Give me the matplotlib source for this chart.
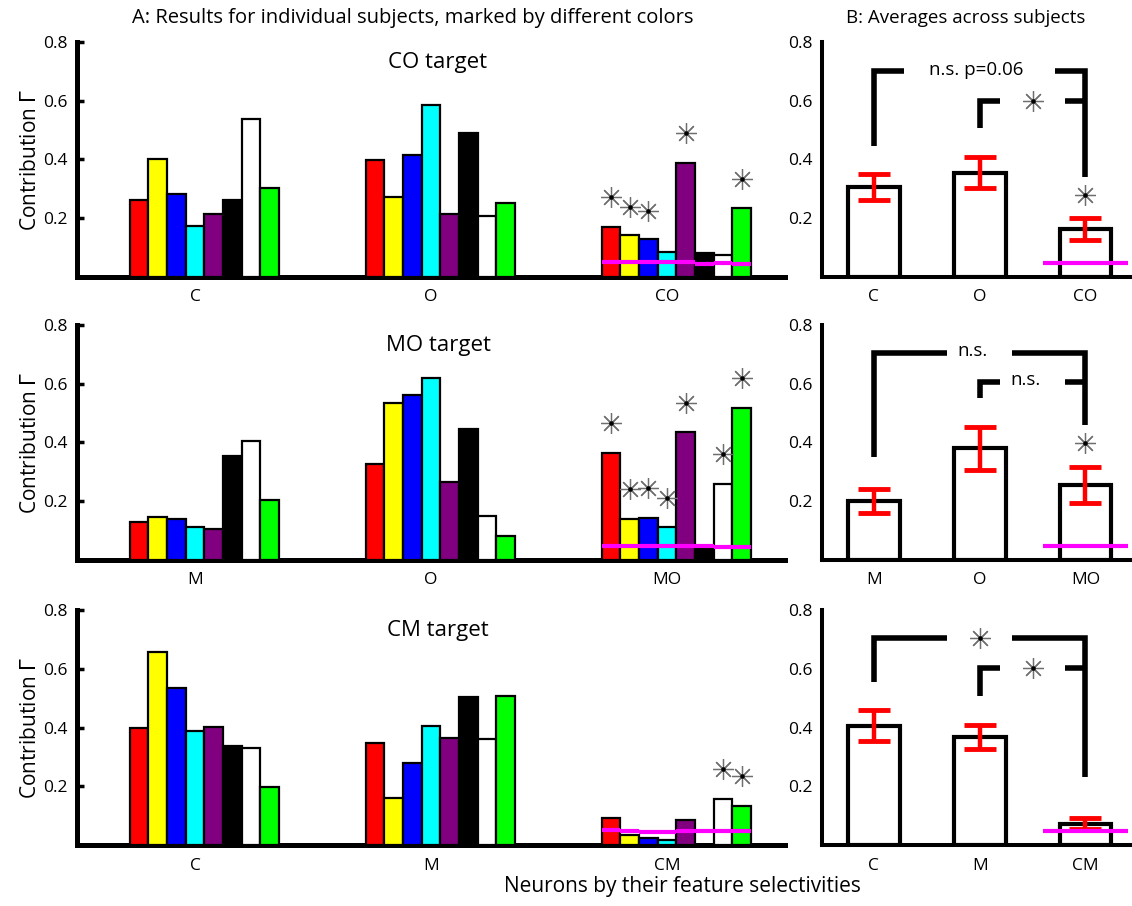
import matplotlib
matplotlib.use('Agg')
import matplotlib.pyplot as plt
import numpy as np

plt.rcParams['font.family'] = ['Open Sans', 'DejaVu Sans']

# subjects, one colour each
subject_colors = ['#ff0000', '#ffff00', '#0000ff', '#00ffff',
                  '#800080', '#000000', '#ffffff', '#00ff00']

# --- CO target ---
co_groups = ['C', 'O', 'CO']
co_vals = [[0.262, 0.402, 0.281, 0.175, 0.213, 0.262, 0.537, 0.302],
           [0.398, 0.271, 0.415, 0.586, 0.214, 0.489, 0.208, 0.253],
           [0.169, 0.143, 0.128, 0.084, 0.387, 0.081, 0.075, 0.234]]
co_chance = [0.052, 0.052, 0.050, 0.051, 0.050, 0.045, 0.048, 0.045]
co_stars = [0.272, 0.239, 0.226, np.nan, 0.490, np.nan, np.nan, 0.334]
co_mean = [0.306, 0.355, 0.163]
co_err = [0.043, 0.053, 0.037]
co_mean_chance = 0.048

# --- MO target ---
mo_groups = ['M', 'O', 'MO']
mo_vals = [[0.130, 0.147, 0.138, 0.113, 0.104, 0.354, 0.406, 0.204],
           [0.327, 0.536, 0.561, 0.620, 0.264, 0.446, 0.150, 0.082],
           [0.365, 0.138, 0.142, 0.111, 0.435, 0.036, 0.259, 0.519]]
mo_chance = [0.048, 0.047, 0.048, 0.046, 0.048, 0.046, 0.045, 0.045]
mo_stars = [0.465, 0.242, 0.244, 0.212, 0.535, np.nan, 0.360, 0.621]
mo_mean = [0.202, 0.380, 0.255]
mo_err = [0.041, 0.073, 0.061]
mo_mean_chance = 0.046

# --- CM target ---
cm_groups = ['C', 'M', 'CM']
cm_vals = [[0.399, 0.657, 0.535, 0.388, 0.402, 0.337, 0.331, 0.198],
           [0.346, 0.159, 0.278, 0.406, 0.363, 0.504, 0.360, 0.508],
           [0.091, 0.034, 0.025, 0.016, 0.084, 0.000, 0.156, 0.133]]
cm_chance = [0.050, 0.047, 0.046, 0.045, 0.048, 0.048, 0.048, 0.048]
cm_stars = [np.nan, np.nan, np.nan, np.nan, np.nan, np.nan, 0.258, 0.235]
cm_mean = [0.406, 0.368, 0.073]
cm_err = [0.053, 0.042, 0.020]
cm_mean_chance = 0.048

# significance brackets: (left start y, top y, right end y, label)
co_big = (0.447, 0.701, 0.341, 'n.s. p=0.06')
co_small = (0.507, 0.600, 'star')
co_top_star = 0.279
mo_big = (0.350, 0.706, 0.459, 'n.s.')
mo_small = (0.552, 0.607, 'n.s.')
mo_top_star = 0.398
cm_big = (0.556, 0.705, 0.233, 'star')
cm_small = (0.507, 0.604, 'star')
cm_top_star = np.nan

yticks = [0.2, 0.4, 0.6, 0.8]
ytick_labels = ['0.2', '0.4', '0.6', '0.8']


def draw_star(ax, x, y):
    ax.plot(x, y, marker=(8, 2, 0), ms=15, mec='#6e6e6e', mew=0.9,
            ls='none', zorder=6, clip_on=False)
    ax.plot(x, y, marker='o', ms=2.2, color='k', ls='none', zorder=7,
            clip_on=False)


def style_axes(ax, spine_w, tick_len):
    for s in ['top', 'right']:
        ax.spines[s].set_visible(False)
    for s in ['left', 'bottom']:
        ax.spines[s].set_linewidth(spine_w)
        ax.spines[s].set_capstyle('projecting')
    ax.set_ylim(0, 0.8)
    ax.set_yticks(yticks)
    ax.set_yticklabels(ytick_labels)
    ax.tick_params(axis='y', direction='in', length=tick_len, width=2.5,
                   labelsize=12.5, pad=7)
    ax.tick_params(axis='x', length=0, labelsize=12.5, pad=9)


def draw_subjects(ax, groups, vals, chance, stars, title):
    bw = 0.079
    for g, gv in enumerate(vals):
        for i, v in enumerate(gv):
            x = g + 1 + (i - 3) * bw
            ax.bar(x, v, width=bw, color=subject_colors[i], edgecolor='k',
                   linewidth=1.6, zorder=3)
            if g == 2:
                ax.hlines(chance[i], x - bw / 2, x + bw / 2, colors='#ff00ff',
                          linewidth=3, zorder=4)
                if not np.isnan(stars[i]):
                    draw_star(ax, x, stars[i])
    ax.set_xlim(0.5, 3.5)
    ax.set_xticks([1, 2, 3])
    ax.set_xticklabels(groups)
    style_axes(ax, 3.6, 5)
    ax.text(2.03, 0.73, title, ha='center', va='center', fontsize=16)


def draw_bracket_label(ax, x, y, label):
    if label == 'star':
        draw_star(ax, x, y)
    else:
        ax.text(x, y + 0.005, label, ha='center', va='center', fontsize=13.5)


def draw_average(ax, groups, mean, err, chance, big, small, top_star,
                 big_gap, big_x):
    xs = np.arange(1, 4)
    ax.bar(xs, mean, width=0.49, color='white', edgecolor='k',
           linewidth=3, zorder=3)
    ax.errorbar(xs, mean, yerr=err, fmt='none', ecolor='#ff0000',
                elinewidth=3.2, capsize=11.5, capthick=3.5, zorder=5)
    ax.hlines(chance, 2.6, 3.4, colors='#ff00ff', linewidth=3, zorder=6)
    lw = 4
    # big bracket between first and third group
    ax.plot([1, 1, big_gap[0]], [big[0], big[1], big[1]], color='k', lw=lw,
            solid_capstyle='butt', solid_joinstyle='miter', zorder=4)
    ax.plot([big_gap[1], 3, 3], [big[1], big[1], big[2]], color='k', lw=lw,
            solid_capstyle='butt', solid_joinstyle='miter', zorder=4)
    draw_bracket_label(ax, big_x, big[1], big[3])
    # small bracket between second and third group
    ax.plot([2, 2, 2.19], [small[0], small[1], small[1]], color='k', lw=lw,
            solid_capstyle='butt', solid_joinstyle='miter', zorder=4)
    ax.plot([2.81, 3], [small[1], small[1]], color='k', lw=lw,
            solid_capstyle='butt', zorder=4)
    if small[2] == 'star':
        draw_bracket_label(ax, 2.5, small[1], 'star')
    else:
        draw_bracket_label(ax, 2.43, small[1], small[2])
    if not np.isnan(top_star):
        draw_star(ax, 3, top_star)
    ax.set_xlim(0.51, 3.43)
    ax.set_xticks(xs)
    ax.set_xticklabels(groups)
    style_axes(ax, 2.9, 0)


fig = plt.figure(figsize=(11.32, 9.06), dpi=100)
bottoms = [0.6943, 0.3819, 0.0673]
h = 0.2594

rows = [
    (co_groups, co_vals, co_chance, co_stars, 'CO target',
     co_mean, co_err, co_mean_chance, co_big, co_small, co_top_star,
     (1.29, 2.71), 1.97),
    (mo_groups, mo_vals, mo_chance, mo_stars, 'MO target',
     mo_mean, mo_err, mo_mean_chance, mo_big, mo_small, mo_top_star,
     (1.69, 2.31), 1.93),
    (cm_groups, cm_vals, cm_chance, cm_stars, 'CM target',
     cm_mean, cm_err, cm_mean_chance, cm_big, cm_small, cm_top_star,
     (1.69, 2.31), 2.0),
]

for b, r in zip(bottoms, rows):
    axl = fig.add_axes([0.068, b, 0.6254, h])
    draw_subjects(axl, r[0], r[1], r[2], r[3], r[4])
    axr = fig.add_axes([0.7261, b, 0.2730, h])
    draw_average(axr, r[0], r[5], r[6], r[7], r[8], r[9], r[10], r[11], r[12])
    fig.text(0.027, b + h / 2, r'Contribution $\Gamma$', rotation=90,
             ha='center', va='center', fontsize=15)

fig.text(0.365, 0.980, 'A: Results for individual subjects, marked by different colors',
         ha='center', va='center', fontsize=14.5)
fig.text(0.8527, 0.980, 'B: Averages across subjects',
         ha='center', va='center', fontsize=13.5)
fig.text(0.603, 0.021, 'Neurons by their feature selectivities',
         ha='center', va='center', fontsize=15)

fig.savefig('out.png', dpi=100)
